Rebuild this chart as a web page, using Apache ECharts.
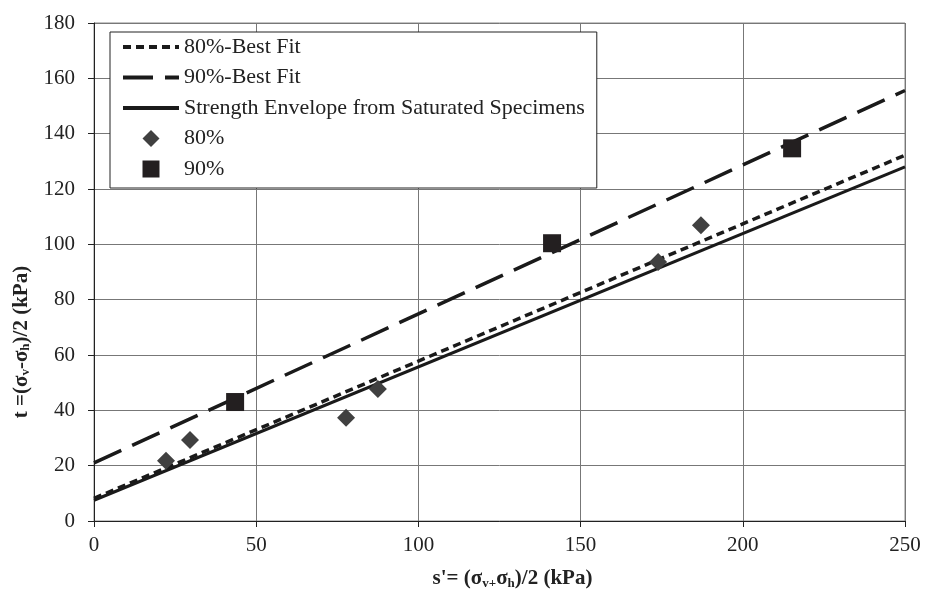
<!DOCTYPE html>
<html>
<head>
<meta charset="utf-8">
<script src="https://cdn.jsdelivr.net/npm/echarts@6/dist/echarts.min.js"></script>
<style>
  html, body { margin: 0; padding: 0; background: #fff; }
  #chart { width: 925px; height: 592px; }
</style>
</head>
<body>
<div id="chart"></div>
<script>
// data
const pts80 = [[22.2, 21.8], [29.6, 29.3], [77.7, 37.3], [87.5, 47.7], [173.9, 93.6], [187.1, 106.9]]
const pts90 = [[43.5, 43.0], [141.2, 100.4], [215.2, 134.7]]
const fit80 = [[0, 8.2], [250, 132.2]]
const fit90 = [[0, 21.0], [250, 155.6]]
const envelope = [[0, 7.5], [250, 128.0]]
const xTicks = [0, 250, 50]   // min, max, interval
const yTicks = [0, 180, 20]

const serif = '"Liberation Serif", "DejaVu Serif", serif'
const ink = '#222'
const dashShort = [8, 5]
const dashLong = [30, 12]

const nameRich = {
  b: { fontFamily: serif, fontSize: 21, fontWeight: 'bold', color: ink },
  s: { fontFamily: serif, fontSize: 13, fontWeight: 'bold', color: ink, padding: [10, 0, 0, 0] }
}

const chart = echarts.init(document.getElementById('chart'))

chart.setOption({
  animation: false,
  backgroundColor: '#fff',
  grid: {
    left: 94, right: 20, top: 23, bottom: 71,
    outerBoundsMode: 'none', containLabel: false,
    show: true, borderColor: '#888', borderWidth: 1
  },
  legend: {
    orient: 'vertical',
    left: 110,
    top: 32,
    padding: [4, 12, 8, 11],
    borderColor: ink,
    borderWidth: 1,
    backgroundColor: '#fff',
    itemWidth: 56,
    itemHeight: 17,
    itemGap: 8.5,
    textStyle: { fontFamily: serif, fontSize: 22, color: ink },
    data: [
      { name: '80%-Best Fit', itemStyle: { opacity: 0 }, lineStyle: { width: 4, type: dashShort, color: '#1a1a1a' } },
      { name: '90%-Best Fit', itemStyle: { opacity: 0 }, lineStyle: { width: 4, type: dashLong, color: '#1a1a1a' } },
      { name: 'Strength Envelope from Saturated Specimens', itemStyle: { opacity: 0 }, lineStyle: { width: 4, color: '#1a1a1a' } },
      { name: '80%', icon: 'path://M0,-1L1,0L0,1L-1,0Z', itemStyle: { color: '#404040' } },
      { name: '90%', icon: 'path://M0,0L1,0L1,1L0,1Z', itemStyle: { color: '#231f20' } }
    ]
  },
  xAxis: {
    type: 'value',
    min: xTicks[0], max: xTicks[1], interval: xTicks[2],
    name: '{b|s\'= (σ}{s|v+}{b|σ}{s|h}{b|)/2 (kPa)}',
    nameLocation: 'middle',
    nameGap: 46,
    nameTextStyle: { padding: [0, 0, 0, 26], rich: nameRich },
    axisLine: { show: true, lineStyle: { color: ink, width: 1 } },
    axisTick: { show: true, length: 6, lineStyle: { color: ink } },
    axisLabel: { fontFamily: serif, fontSize: 21, color: ink, margin: 14 },
    splitLine: { show: true, lineStyle: { color: '#777', width: 1 } }
  },
  yAxis: {
    type: 'value',
    min: yTicks[0], max: yTicks[1], interval: yTicks[2],
    name: '{b|t =(σ}{s|v}{b|-σ}{s|h}{b|)/2 (kPa)}',
    nameLocation: 'middle',
    nameGap: 58,
    nameTextStyle: { padding: [0, 140, 0, 0], rich: nameRich },
    axisLine: { show: true, lineStyle: { color: ink, width: 1 } },
    axisTick: { show: true, length: 6, lineStyle: { color: ink } },
    axisLabel: { fontFamily: serif, fontSize: 21, color: ink, margin: 19 },
    splitLine: { show: true, lineStyle: { color: '#777', width: 1 } }
  },
  series: [
    {
      name: '80%-Best Fit', type: 'line', data: fit80, symbol: 'none',
      lineStyle: { color: '#1a1a1a', width: 3.5, type: dashShort },
      itemStyle: { color: '#1a1a1a' }, z: 3
    },
    {
      name: '90%-Best Fit', type: 'line', data: fit90, symbol: 'none',
      lineStyle: { color: '#1a1a1a', width: 3.5, type: dashLong },
      itemStyle: { color: '#1a1a1a' }, z: 3
    },
    {
      name: 'Strength Envelope from Saturated Specimens', type: 'line', data: envelope, symbol: 'none',
      lineStyle: { color: '#1a1a1a', width: 3 },
      itemStyle: { color: '#1a1a1a' }, z: 3
    },
    {
      name: '80%', type: 'scatter', data: pts80, symbol: 'diamond', symbolSize: 18,
      itemStyle: { color: '#404040', opacity: 1 }, z: 4
    },
    {
      name: '90%', type: 'scatter', data: pts90, symbol: 'rect', symbolSize: 18,
      itemStyle: { color: '#231f20', opacity: 1 }, z: 4
    }
  ]
})
</script>
</body>
</html>
